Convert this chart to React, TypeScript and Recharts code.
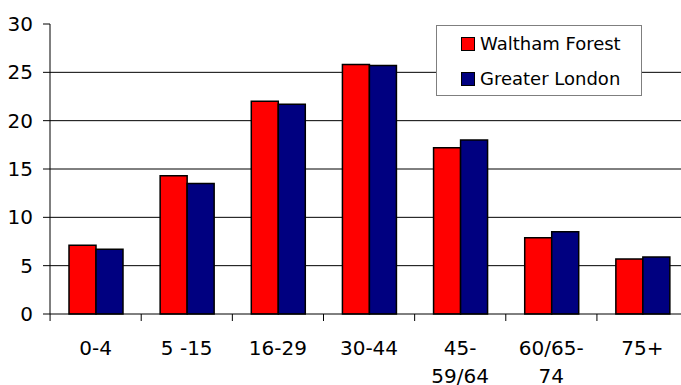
import { BarChart, Bar, XAxis, YAxis, CartesianGrid } from 'recharts'

// age bands, line breaks as in the original axis labels
const ageBands = ['0-4', '5 -15', '16-29', '30-44', '45-\n59/64', '60/65-\n74', '75+']
const walthamForest = [7.1, 14.3, 22.0, 25.8, 17.2, 7.9, 5.7]
const greaterLondon = [6.7, 13.5, 21.7, 25.7, 18.0, 8.5, 5.9]
const yTicks = [0, 5, 10, 15, 20, 25, 30]

const RED = '#ff0000'
const NAVY = '#000080'
const FONT = '"DejaVu Sans", sans-serif'

const data = ageBands.map((band, i) => ({
  band,
  wf: walthamForest[i],
  gl: greaterLondon[i],
}))

const series = [
  { key: 'wf', name: 'Waltham Forest', color: RED },
  { key: 'gl', name: 'Greater London', color: NAVY },
]

// category label, plus the tick mark sitting on the band's left boundary
function BandTick(props: any) {
  const { x, y, payload } = props
  const half = 91 / 2
  const lines = String(payload.value).split('\n')
  return (
    <g>
      <line x1={x - half} x2={x - half} y1={y - 8} y2={y - 1} stroke="#000" />
      <text x={x} y={y + 33} textAnchor="middle" fontSize={20} fontFamily={FONT} fill="#000">
        {lines.map((l, i) => (
          <tspan key={i} x={x} dy={i === 0 ? 0 : 28}>{l}</tspan>
        ))}
      </text>
    </g>
  )
}

// drawn over the plot, like the boxed legend of the original
function LegendBox() {
  return (
    <div style={{
      position: 'absolute', left: 436, top: 25,
      width: 206, height: 71, boxSizing: 'border-box', border: '1px solid #7f7f7f',
      background: '#fff', paddingLeft: 24, fontFamily: FONT, fontSize: 18, color: '#000',
    }}>
      {series.map(s => (
        <div key={s.key} style={{ display: 'flex', alignItems: 'center', height: 35 }}>
          <span style={{
            width: 14, height: 14, boxSizing: 'border-box', background: s.color,
            border: '1.5px solid #000', marginRight: 5,
          }} />
          <span>{s.name}</span>
        </div>
      ))}
    </div>
  )
}

export default function App() {
  return (
    <div style={{ position: 'fixed', left: 0, top: 0, width: 681, height: 385, overflow: 'hidden', background: '#fff' }}>
      <BarChart
        width={688}
        height={385}
        data={data}
        margin={{ top: 24, right: 0, bottom: 0, left: 0 }}
        barCategoryGap={19}
        barGap={0}
      >
        <CartesianGrid horizontal vertical={false} horizontalValues={[5, 10, 15, 20, 25]} stroke="#000" />
        <XAxis
          dataKey="band"
          interval={0}
          height={71}
          axisLine={{ stroke: '#000' }}
          tickLine={false}
          tick={<BandTick />}
        />
        <YAxis
          domain={[0, 30]}
          ticks={yTicks}
          interval={0}
          width={50}
          tickSize={7}
          tickMargin={10}
          axisLine={{ stroke: '#000' }}
          tickLine={{ stroke: '#000' }}
          tick={{ fontSize: 20, fontFamily: FONT, fill: '#000' }}
        />
        {series.map(s => (
          <Bar
            key={s.key}
            dataKey={s.key}
            name={s.name}
            fill={s.color}
            stroke="#000"
            strokeWidth={1.5}
            isAnimationActive={false}
          />
        ))}
      </BarChart>
      <LegendBox />
    </div>
  )
}
